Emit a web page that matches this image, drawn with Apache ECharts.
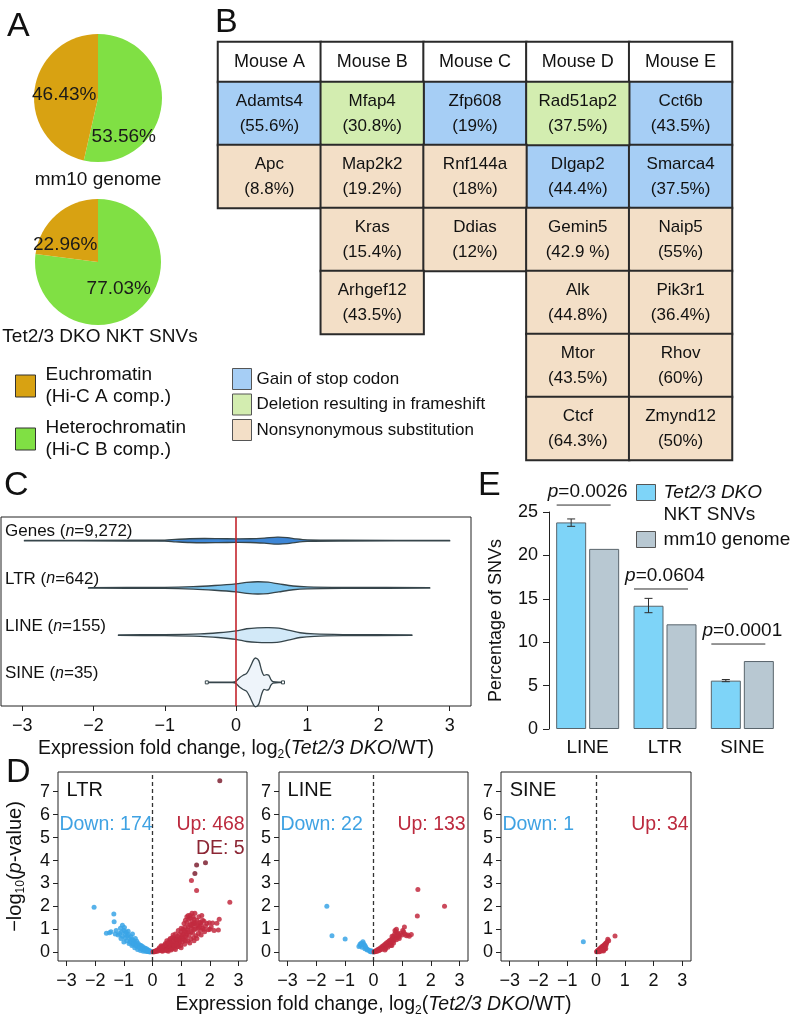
<!DOCTYPE html>
<html><head><meta charset="utf-8">
<script src="https://cdn.jsdelivr.net/npm/echarts@6/dist/echarts.min.js"></script>
<style>html,body{margin:0;padding:0;background:#fff}#c{width:793px;height:1014px}</style>
</head><body><div id="c"></div>
<script>
// ================= DATA =================
// Panel A
const pieNames = ['Heterochromatin\n(Hi-C B comp.)', 'Euchromatin\n(Hi-C A comp.)'];
const pieGenome = [53.56, 46.43];
const pieSNV = [77.03, 22.96];
const pieTitles = ['mm10 genome', 'Tet2/3 DKO NKT SNVs'];

// Panel B
const mice = ['Mouse A', 'Mouse B', 'Mouse C', 'Mouse D', 'Mouse E'];
const tableRows = ['r1', 'r2', 'r3', 'r4', 'r5', 'r6'];
const mutTypes = ['Gain of stop codon', 'Deletion resulting in frameshift', 'Nonsynonymous substitution'];
const cellMouse = [0, 1, 2, 3, 4, 0, 1, 2, 3, 4, 1, 2, 3, 4, 1, 3, 4, 3, 4, 3, 4];
const cellRow   = [0, 0, 0, 0, 0, 1, 1, 1, 1, 1, 2, 2, 2, 2, 3, 3, 3, 4, 4, 5, 5];
const cellGene  = ['Adamts4', 'Mfap4', 'Zfp608', 'Rad51ap2', 'Cct6b', 'Apc', 'Map2k2', 'Rnf144a', 'Dlgap2', 'Smarca4',
  'Kras', 'Ddias', 'Gemin5', 'Naip5', 'Arhgef12', 'Alk', 'Pik3r1', 'Mtor', 'Rhov', 'Ctcf', 'Zmynd12'];
const cellPct   = ['55.6%', '30.8%', '19%', '37.5%', '43.5%', '8.8%', '19.2%', '18%', '44.4%', '37.5%',
  '15.4%', '12%', '42.9 %', '55%', '43.5%', '44.8%', '36.4%', '43.5%', '60%', '64.3%', '50%'];
const cellType  = [0, 1, 0, 1, 0, 2, 2, 2, 0, 0, 2, 2, 2, 2, 2, 2, 2, 2, 2, 2, 2];

// Panel C (violin density profiles: [log2FC, half-width relative to half band])
const violinCats = ['Genes', 'LTR', 'LINE', 'SINE'];
const violinN = ['9,272', '642', '155', '35'];
const violinGenes = [[-2.97,0.01],[-1.5,0.015],[-1.0,0.025],[-0.85,0.05],[-0.65,0.08],[-0.45,0.09],[-0.25,0.085],[0,0.075],[0.2,0.08],[0.4,0.11],[0.58,0.15],[0.72,0.13],[0.85,0.07],[1.0,0.03],[1.5,0.015],[3.0,0.01]];
const violinLTR = [[-2.07,0.01],[-1.0,0.02],[-0.6,0.05],[-0.3,0.1],[0,0.17],[0.15,0.23],[0.3,0.26],[0.45,0.24],[0.6,0.17],[0.8,0.08],[1.0,0.04],[1.5,0.02],[2.72,0.01]];
const violinLINE = [[-1.65,0.01],[-1.0,0.02],[-0.5,0.05],[-0.25,0.1],[0,0.18],[0.15,0.27],[0.3,0.31],[0.45,0.32],[0.6,0.3],[0.75,0.2],[0.9,0.1],[1.1,0.05],[1.5,0.025],[2.47,0.01]];
const violinSINE = [[-0.41,0.01],[-0.05,0.01],[0.0,0.05],[0.05,0.2],[0.1,0.3],[0.15,0.38],[0.2,0.65],[0.25,0.97],[0.28,1.03],[0.32,0.92],[0.36,0.5],[0.39,0.3],[0.43,0.33],[0.46,0.3],[0.49,0.12],[0.52,0.03],[0.66,0.01]];
const violinProfiles = [violinGenes, violinLTR, violinLINE, violinSINE];
const fcTicks = [-3, -2, -1, 0, 1, 2, 3];

// Panel E
const repeatCats = ['LINE', 'LTR', 'SINE'];
const barNames = ['Tet2/3 DKO NKT SNVs', 'mm10 genome'];
const pctDKO = [23.8, 14.2, 5.57];
const pctGenome = [20.75, 12.06, 7.83];
const errLow = [23.35, 13.4, 5.45];
const errHigh = [24.2, 15.05, 5.7];
const pValues = ['0.0026', '0.0604', '0.0001'];
const pBracketY = [25.8, 16.13, 9.79];

// Panel D
const volcanoNames = ['LTR', 'LINE', 'SINE'];
const downCounts = [174, 22, 1];
const upCounts = [468, 133, 34];
const deCounts = [5, 0, 0];
const pTicks = [0, 1, 2, 3, 4, 5, 6, 7];
const ltrDown = [[-2.04,1.96],[-1.35,1.67],[-1.34,1.33],[-1.61,0.83],[-1.45,0.9],[-1.27,0.95],[-1.05,1.18],[-0.98,1.08],[-1.15,0.82],[-1.0,0.95],[-0.92,0.88],[-0.85,0.78],[-1.05,0.7],[-0.95,0.62],[-0.88,0.72],[-0.8,0.6],[-0.75,0.68],[-0.7,0.55],[-0.78,0.45],[-0.65,0.5],[-0.6,0.42],[-0.55,0.48],[-0.68,0.35],[-0.5,0.38],[-0.45,0.32],[-0.58,0.28],[-0.4,0.3],[-0.48,0.22],[-0.35,0.25],[-0.3,0.2],[-0.38,0.15],[-0.25,0.18],[-0.2,0.14],[-0.28,0.1],[-0.15,0.1],[-0.1,0.07],[-0.18,0.05],[-0.05,0.03],[-0.12,0.02],[-0.08,0.01],[-0.9,0.5],[-1.1,0.6],[-0.72,0.3],[-0.62,0.2],[-0.52,0.12],[-0.42,0.08],[-0.32,0.05],[-0.22,0.03],[-1.2,0.75],[-0.82,0.38],[-1.0,0.45],[-0.6,0.6],[-0.7,0.8],[-0.85,0.92],[-1.12,1.05],[-1.5,0.85],[-1.3,0.8],[-0.95,0.8],[-1.08,0.9],[-0.75,0.5],[-0.65,0.38],[-0.55,0.3],[-0.45,0.2],[-0.35,0.12],[-0.25,0.08],[-0.15,0.04]];
const ltrUp = [[0.02,0.01],[0.05,0.03],[0.08,0.02],[0.1,0.06],[0.12,0.04],[0.15,0.09],[0.18,0.05],[0.2,0.12],[0.22,0.08],[0.25,0.15],[0.27,0.1],[0.3,0.18],[0.32,0.07],[0.35,0.22],[0.37,0.13],[0.4,0.27],[0.42,0.16],[0.44,0.09],[0.46,0.3],[0.48,0.2],[0.5,0.35],[0.52,0.12],[0.54,0.25],[0.56,0.4],[0.58,0.18],[0.6,0.3],[0.62,0.45],[0.64,0.22],[0.66,0.14],[0.68,0.36],[0.7,0.5],[0.72,0.28],[0.74,0.42],[0.76,0.18],[0.78,0.56],[0.8,0.33],[0.82,0.62],[0.84,0.45],[0.86,0.24],[0.88,0.7],[0.9,0.52],[0.92,0.38],[0.94,0.78],[0.96,0.6],[0.98,0.3],[1.0,0.9],[1.02,0.68],[1.04,0.45],[1.06,1.0],[1.08,0.8],[1.1,0.55],[1.12,0.35],[1.14,1.1],[1.16,0.9],[1.18,0.66],[1.2,1.3],[1.22,0.98],[1.24,0.48],[1.26,1.45],[1.28,0.75],[1.3,1.2],[1.32,1.6],[1.34,0.58],[1.36,1.05],[1.38,1.35],[1.4,0.85],[1.42,1.55],[1.44,0.65],[1.46,1.25],[1.48,1.7],[1.5,1.0],[1.52,0.72],[1.55,1.4],[1.58,1.15],[1.6,0.82],[1.62,1.55],[1.65,1.3],[1.68,0.95],[1.7,1.2],[1.72,1.6],[1.75,1.05],[1.8,1.35],[1.82,0.9],[1.85,1.15],[1.9,1.25],[1.95,0.98],[1.98,1.29],[2.05,1.1],[2.1,1.28],[2.15,0.95],[2.3,0.97],[2.33,1.44],[2.25,1.27],[2.7,2.18],[1.68,1.29],[0.3,0.28],[0.4,0.1],[0.45,0.38],[0.55,0.05],[0.6,0.55],[0.65,0.3],[0.7,0.2],[0.75,0.6],[0.8,0.12],[0.85,0.55],[0.9,0.25],[0.95,0.45],[1.0,0.2],[1.05,0.75],[1.1,0.95],[1.15,0.5],[1.2,0.8],[1.25,1.1],[1.3,0.4],[1.35,0.9],[1.4,1.15],[1.45,0.5],[1.5,1.3],[1.55,0.6],[1.6,1.05],[1.3,1.5],[1.2,1.55],[1.1,1.25],[1.0,1.05],[0.9,0.95],[0.8,0.8],[0.7,0.65],[0.6,0.15],[0.5,0.5],[1.38,1.7],[1.25,1.6],[1.45,1.0],[1.7,0.75],[1.8,1.0],[2.0,1.0],[1.15,1.4],[1.42,1.25],[1.36,3.13],[1.54,2.69],[0.35,0.05],[0.5,0.08],[0.65,0.1],[0.75,0.3],[0.85,0.35],[0.95,0.55],[1.05,0.6],[1.15,0.7],[1.25,0.9],[1.35,1.2],[1.45,1.45],[1.55,1.2],[1.65,1.1],[1.75,1.4],[0.72,0.75],[0.62,0.6],[0.52,0.42],[0.42,0.32],[0.33,0.25],[0.24,0.2]];
const ltrDE = [[2.35,7.48],[1.85,3.9],[1.54,3.81],[1.48,3.44]];
const lineDown = [[-1.63,2.01],[-1.45,0.72],[-0.99,0.58],[-0.51,0.25],[-0.43,0.39],[-0.37,0.46],[-0.31,0.32],[-0.45,0.3],[-0.4,0.22],[-0.25,0.18],[-0.2,0.12],[-0.15,0.08],[-0.08,0.07],[-0.05,0.03],[-0.12,0.05],[-0.3,0.15],[-0.35,0.38],[-0.47,0.35],[-0.02,0.01],[-0.22,0.1],[-0.1,0.02],[-0.28,0.25]];
const lineUp = [[0.02,0.01],[0.05,0.04],[0.08,0.03],[0.1,0.08],[0.12,0.05],[0.15,0.12],[0.18,0.07],[0.2,0.15],[0.22,0.1],[0.25,0.2],[0.28,0.12],[0.3,0.25],[0.32,0.18],[0.35,0.3],[0.38,0.22],[0.4,0.35],[0.42,0.15],[0.45,0.4],[0.47,0.28],[0.5,0.45],[0.52,0.33],[0.55,0.5],[0.57,0.38],[0.6,0.55],[0.62,0.42],[0.64,0.3],[0.66,0.6],[0.68,0.48],[0.7,0.7],[0.72,0.55],[0.74,0.8],[0.76,0.62],[0.78,0.9],[0.8,1.0],[0.82,0.72],[0.84,0.85],[0.86,0.65],[0.88,0.78],[0.9,0.7],[0.95,0.82],[1.0,0.75],[1.02,0.95],[1.05,0.9],[1.08,1.1],[1.1,0.8],[1.15,0.72],[1.2,0.75],[1.25,0.7],[1.32,0.78],[0.6,0.3],[0.5,0.22],[0.4,0.1],[0.7,0.4],[0.8,0.55],[0.9,0.6],[0.65,0.7],[0.75,0.95],[1.53,1.58],[1.55,2.74],[2.48,2.01]];
const sineDown = [[-0.44,0.46]];
const sineUp = [[0.66,0.71],[0.41,0.57],[0.44,0.5],[0.02,0.02],[0.04,0.05],[0.05,0.02],[0.07,0.09],[0.09,0.06],[0.1,0.12],[0.12,0.1],[0.14,0.16],[0.15,0.11],[0.17,0.2],[0.19,0.15],[0.2,0.24],[0.22,0.18],[0.24,0.27],[0.25,0.21],[0.27,0.3],[0.29,0.24],[0.3,0.34],[0.32,0.28],[0.33,0.38],[0.35,0.32],[0.37,0.42],[0.28,0.12],[0.31,0.14],[0.23,0.08],[0.16,0.04],[0.38,0.45],[0.34,0.16],[0.26,0.06],[0.11,0.02],[0.2,0.1]];

// ================= STYLE / LAYOUT =================
const FONT = 'Liberation Sans, Arial, Helvetica, sans-serif';
const TXT = '#111';
const fmtTick = v => (v < 0 ? '\u2212' + Math.abs(v) : String(v));
const pieColors = ['#80E044', '#D8A212'];
const typeColors = ['#A6CEF5', '#D3EDB0', '#F3DFC7'];
const violinFill = ['#3D86D6', '#7CC6F1', '#D2E9F8', '#EEF4FA'];
const barColors = ['#7ED4F8', '#B8C8D2'];
const volColors = {down: '#3AA4E6', up: '#C22A40', de: '#7E2233'};
const pieLabelShift = [[[-9, 35], [1, 1]], [[-2, 1], [-10, 9]]];
const TICKFS = 18;

function gridBox(left, top, width, height, show) {
  return {left, top, width, height, show: !!show, borderColor: '#222', borderWidth: 1,
    containLabel: false, outerBoundsMode: 'none'};
}
const grids = [
  gridBox(218, 42, 514, 40),     // 0 B header
  gridBox(218, 82, 514, 378),    // 1 B body
  gridBox(1, 517, 470, 189, true), // 2 C
  gridBox(549, 512, 232, 217),   // 3 E
  gridBox(58, 772, 189, 189, true),  // 4 D LTR
  gridBox(279, 772, 189, 189, true), // 5 D LINE
  gridBox(501, 772, 190, 189, true)  // 6 D SINE
];

const fcName = '{a|Expression fold change, log}{s|2}{a|(}{i|Tet2/3 DKO}{a|/WT)}';
const fcRich = {a: {fontSize: 19.5, color: TXT, fontFamily: FONT}, s: {fontSize: 12, color: TXT, padding: [13, 0, 0, 0], fontFamily: FONT}, i: {fontSize: 19.5, fontStyle: 'italic', color: TXT, fontFamily: FONT}};

function fcAxis(gridIndex, withName, gap) {
  const ax = {type: 'value', gridIndex, min: -3.3, max: 3.3,
    axisLine: {show: false, onZero: false}, splitLine: {show: false},
    axisTick: {show: true, customValues: fcTicks, length: 5, lineStyle: {color: '#222'}},
    axisLabel: {show: true, customValues: fcTicks, formatter: fmtTick, fontSize: TICKFS, color: TXT, margin: 11, fontFamily: FONT}};
  if (withName) {
    Object.assign(ax, {name: fcName, nameLocation: 'middle', nameGap: gap, nameTextStyle: {rich: fcRich}});
  }
  return ax;
}
function pAxis(gridIndex, withName) {
  const ax = {type: 'value', gridIndex, min: -0.38, max: 7.86,
    axisLine: {show: false, onZero: false}, splitLine: {show: false},
    axisTick: {show: true, customValues: pTicks, length: 5, lineStyle: {color: '#222'}},
    axisLabel: {show: true, customValues: pTicks, fontSize: TICKFS, color: TXT, margin: 8, fontFamily: FONT}};
  if (withName) {
    Object.assign(ax, {name: '{a|\u2212log}{s|10}{a|(}{i|p}{a|-value)}', nameLocation: 'middle', nameRotate: 90, nameGap: 31,
      nameTextStyle: {rich: {a: {fontSize: 20, color: TXT, fontFamily: FONT}, s: {fontSize: 12, color: TXT, padding: [12, 0, 0, 0], fontFamily: FONT}, i: {fontSize: 20, fontStyle: 'italic', color: TXT, fontFamily: FONT}}}});
  }
  return ax;
}

const xAxes = [
  {type: 'category', gridIndex: 0, data: mice, show: false},
  {type: 'category', gridIndex: 1, data: mice, show: false},
  fcAxis(2, true, 30),
  {type: 'category', gridIndex: 3, data: repeatCats, axisLine: {show: false}, axisTick: {show: false},
    axisLabel: {fontSize: 19, color: TXT, margin: 9, fontFamily: FONT}},
  fcAxis(4, false), fcAxis(5, true, 31), fcAxis(6, false)
];
const yAxes = [
  {type: 'category', gridIndex: 0, data: ['h'], show: false},
  {type: 'category', gridIndex: 1, data: tableRows, inverse: true, show: false},
  {type: 'category', gridIndex: 2, data: violinCats, inverse: true, show: false},
  {type: 'value', gridIndex: 3, min: 0, max: 25, interval: 5, splitLine: {show: false},
    axisLine: {show: true, onZero: false, lineStyle: {color: '#222'}}, axisTick: {show: true, length: 6, lineStyle: {color: '#222'}},
    axisLabel: {fontSize: TICKFS, color: TXT, margin: 11, fontFamily: FONT},
    name: 'Percentage of SNVs', nameLocation: 'middle', nameRotate: 90, nameGap: 44,
    nameTextStyle: {fontSize: 18, color: TXT, fontFamily: FONT}},
  pAxis(4, true), pAxis(5, false), pAxis(6, false)
];

const series = [];
// ---- Panel A pies
[pieGenome, pieSNV].forEach((vals, k) => {
  series.push({type: 'pie', center: [98, k === 0 ? 98 : 262], radius: k === 0 ? 64 : 63, startAngle: 90, clockwise: true,
    silent: true, avoidLabelOverlap: false,
    data: vals.map((v, i) => ({name: pieNames[i], value: v})),
    itemStyle: {borderWidth: 0}, color: pieColors,
    label: {show: true, position: 'inside', formatter: p => p.value.toFixed(2) + '%', fontSize: 19, color: '#1a1a1a', fontFamily: FONT},
    labelLayout: p => ({dx: pieLabelShift[k][p.dataIndex][0], dy: pieLabelShift[k][p.dataIndex][1]}),
    labelLine: {show: false}, emphasis: {disabled: true}});
});
// ---- Panel B table
series.push({type: 'heatmap', xAxisIndex: 0, yAxisIndex: 0, name: 'header',
  data: mice.map((m, i) => [i, 0, 1]),
  itemStyle: {color: '#ffffff', borderColor: '#2a2a2a', borderWidth: 2},
  label: {show: true, formatter: p => mice[p.value[0]], fontSize: 18, color: TXT, fontFamily: FONT},
  emphasis: {disabled: true}});
mutTypes.forEach((t, ti) => {
  const data = [];
  cellGene.forEach((g, j) => {
    if (cellType[j] === ti) data.push({value: [cellMouse[j], cellRow[j], 1], gene: g, pct: cellPct[j]});
  });
  series.push({type: 'heatmap', xAxisIndex: 1, yAxisIndex: 1, name: t, data,
    itemStyle: {color: typeColors[ti], borderColor: '#2a2a2a', borderWidth: 2},
    label: {show: true, formatter: p => p.data.gene + '\n(' + p.data.pct + ')', fontSize: 17, lineHeight: 25, color: TXT, fontFamily: FONT},
    emphasis: {disabled: true}});
});
// ---- Panel C violins
series.push({type: 'custom', xAxisIndex: 2, yAxisIndex: 2, silent: true,
  data: violinCats.map((c, i) => [0, i]),
  renderItem: (params, api) => {
    const i = params.dataIndex;
    const prof = violinProfiles[i];
    const ctr = api.coord([0, i]);
    const half = api.size([0, 1])[1] / 2;
    const top = prof.map(([x, w]) => [api.coord([x, i])[0], ctr[1] - w * half]);
    const bot = prof.slice().reverse().map(([x, w]) => [api.coord([x, i])[0], ctr[1] + w * half]);
    const left = api.coord([-3.3, i])[0];
    const kids = [
      {type: 'polygon', shape: {points: top.concat(bot), smooth: 0.3}, style: {fill: violinFill[i], stroke: '#36454b', lineWidth: 1.3}},
      {type: 'text', style: {text: '{a|' + violinCats[i] + ' (}{i|n}{a|=' + violinN[i] + ')}', x: left + 4, y: ctr[1] - 9, verticalAlign: 'middle', align: 'left',
        rich: {a: {fontSize: 17, fill: TXT, fontFamily: FONT}, i: {fontSize: 16, fontStyle: 'italic', fill: TXT, fontFamily: FONT}}}}
    ];
    if (i === 3) {
      [prof[0][0], prof[prof.length - 1][0]].forEach(x => {
        const p = api.coord([x, i]);
        kids.push({type: 'rect', shape: {x: p[0] - 1.5, y: p[1] - 1.5, width: 3, height: 3}, style: {fill: '#fff', stroke: '#36454b', lineWidth: 1}});
      });
    }
    return {type: 'group', children: kids};
  },
  markLine: {silent: true, symbol: 'none', label: {show: false}, data: [{xAxis: 0}], lineStyle: {color: '#C3252C', width: 1.6, type: 'solid'}}
});
// ---- Panel E bars
[pctDKO, pctGenome].forEach((vals, k) => {
  series.push({type: 'bar', name: barNames[k], xAxisIndex: 3, yAxisIndex: 3, data: vals, barWidth: 30, barGap: '10%',
    itemStyle: {color: barColors[k], borderColor: '#59656c', borderWidth: 1}, silent: true});
});
series.push({type: 'custom', xAxisIndex: 3, yAxisIndex: 3, silent: true, z: 5,
  data: repeatCats.map((c, i) => [i, errLow[i], errHigh[i]]),
  renderItem: (params, api) => {
    const i = params.dataIndex;
    const lo = api.coord([i, errLow[i]]), hi = api.coord([i, errHigh[i]]);
    const x = lo[0] - 16.5;
    const st = {stroke: '#2e2e2e', lineWidth: 1};
    return {type: 'group', children: [
      {type: 'line', shape: {x1: x, y1: lo[1], x2: x, y2: hi[1]}, style: st},
      {type: 'line', shape: {x1: x - 4, y1: lo[1], x2: x + 4, y2: lo[1]}, style: st},
      {type: 'line', shape: {x1: x - 4, y1: hi[1], x2: x + 4, y2: hi[1]}, style: st}
    ]};
  }});
series.push({type: 'custom', xAxisIndex: 3, yAxisIndex: 3, silent: true, clip: false,
  data: repeatCats.map((c, i) => [i, pBracketY[i]]),
  renderItem: (params, api) => {
    const i = params.dataIndex;
    const p = api.coord([i, pBracketY[i]]);
    return {type: 'group', children: [
      {type: 'line', shape: {x1: p[0] - 31, y1: p[1], x2: p[0] + 23, y2: p[1]}, style: {stroke: '#2e2e2e', lineWidth: 1}},
      {type: 'text', style: {text: '{i|p}{a|=' + pValues[i] + '}', x: p[0], y: p[1] - 13, align: 'center', verticalAlign: 'middle',
        rich: {a: {fontSize: 19, fill: TXT, fontFamily: FONT}, i: {fontSize: 19, fontStyle: 'italic', fill: TXT, fontFamily: FONT}}}}
    ]};
  }});
// ---- Panel D volcanoes
const volData = [[ltrDown, ltrUp, ltrDE], [lineDown, lineUp, []], [sineDown, sineUp, []]];
volData.forEach((sets, g) => {
  const ax = 4 + g;
  const kinds = ['down', 'up', 'de'];
  sets.forEach((pts, k) => {
    const s = {type: 'scatter', xAxisIndex: ax, yAxisIndex: ax, data: pts, symbolSize: 5, silent: true,
      itemStyle: {color: volColors[kinds[k]], opacity: 0.85}};
    if (k === 0) s.markLine = {silent: true, symbol: 'none', label: {show: false}, data: [{xAxis: 0}],
      lineStyle: {color: '#333', width: 1.3, type: [4, 3]}};
    series.push(s);
  });
  series.push({type: 'custom', xAxisIndex: ax, yAxisIndex: ax, silent: true, data: [[0, 0]],
    renderItem: (params, api) => {
      const nm = api.coord([-3.0, 7.07]);
      const dn = api.coord([-3.25, 5.55]);
      const up = api.coord([3.22, 5.55]);
      const de = api.coord([3.22, 4.51]);
      const kids = [
        {type: 'text', style: {text: volcanoNames[g], x: nm[0], y: nm[1], align: 'left', verticalAlign: 'middle', fontSize: 20, fill: TXT, fontFamily: FONT}},
        {type: 'text', style: {text: 'Down: ' + downCounts[g], x: dn[0], y: dn[1], align: 'left', verticalAlign: 'middle', fontSize: 19.5, fill: '#3FA2E3', fontFamily: FONT}},
        {type: 'text', style: {text: 'Up: ' + upCounts[g], x: up[0], y: up[1], align: 'right', verticalAlign: 'middle', fontSize: 19.5, fill: '#BC2A3E', fontFamily: FONT}}
      ];
      if (deCounts[g]) kids.push({type: 'text', style: {text: 'DE: ' + deCounts[g], x: de[0], y: de[1], align: 'right', verticalAlign: 'middle', fontSize: 19.5, fill: '#8C2634', fontFamily: FONT}});
      return {type: 'group', children: kids};
    }});
});

const letter = (t, left, top) => ({text: t, left, top, padding: 0, textStyle: {fontSize: 34, fontWeight: 'normal', color: TXT, fontFamily: FONT}});
const subTitle = (t, left, top) => ({text: t, left, top, textAlign: 'center', padding: 0, textStyle: {fontSize: 19, fontWeight: 'normal', color: TXT, fontFamily: FONT}});
const option = {
  animation: false,
  backgroundColor: '#ffffff',
  textStyle: {fontFamily: FONT, color: TXT},
  title: [
    letter('A', 7, 10), letter('B', 215, 6), letter('C', 4, 469), letter('E', 478, 469), letter('D', 6, 756),
    subTitle(pieTitles[0], 98, 170), subTitle(pieTitles[1], 100, 327)
  ],
  legend: [
    {data: [pieNames[1], pieNames[0]], orient: 'vertical', left: 15, top: 364, padding: 0, itemGap: 9, itemWidth: 20, itemHeight: 22,
      icon: 'rect', selectedMode: false, itemStyle: {borderColor: '#333', borderWidth: 1},
      textStyle: {fontSize: 19, lineHeight: 22, color: TXT, fontFamily: FONT, padding: [0, 0, 0, 5]}},
    {data: mutTypes, orient: 'vertical', left: 232, top: 368, padding: 0, itemGap: 3.5, itemWidth: 19, itemHeight: 21,
      icon: 'rect', selectedMode: false, itemStyle: {borderColor: '#555', borderWidth: 1},
      textStyle: {fontSize: 17, color: TXT, fontFamily: FONT}},
    {data: [{name: barNames[0], textStyle: {padding: [22, 0, 0, 3]}}, {name: barNames[1], textStyle: {padding: [0, 0, 0, 3]}}],
      orient: 'vertical', left: 636, top: 483, padding: 0, itemGap: 6, itemWidth: 19, itemHeight: 16,
      icon: 'rect', selectedMode: false, itemStyle: {borderColor: '#555', borderWidth: 1},
      formatter: n => n === barNames[0] ? '{i|Tet2/3 DKO}\n{n|NKT SNVs}' : '{n|mm10 genome}',
      textStyle: {fontSize: 19, color: TXT, fontFamily: FONT,
        rich: {i: {fontSize: 19, fontStyle: 'italic', lineHeight: 22, color: TXT, fontFamily: FONT}, n: {fontSize: 19, lineHeight: 22, color: TXT, fontFamily: FONT}}}}
  ],
  grid: grids,
  xAxis: xAxes,
  yAxis: yAxes,
  series
};
const chart = echarts.init(document.getElementById('c'), null, {renderer: 'canvas', width: 793, height: 1014});
chart.setOption(option);
</script>
</body></html>
